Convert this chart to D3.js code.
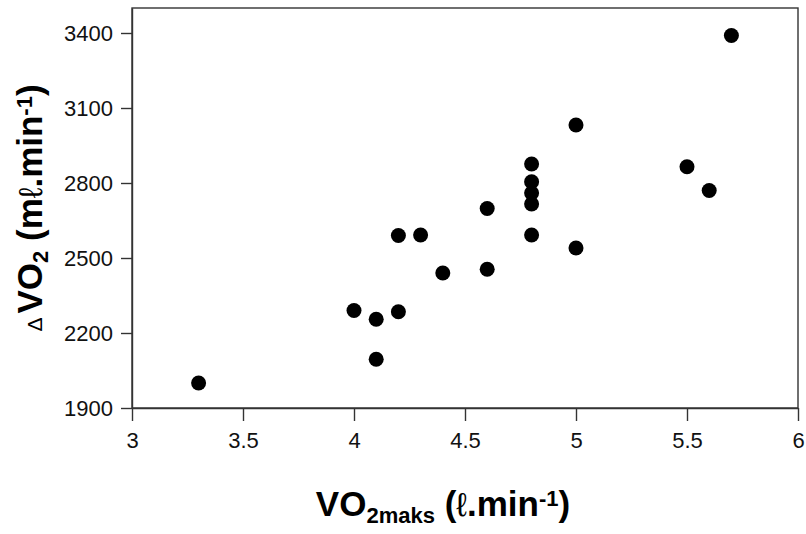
<!DOCTYPE html>
<html>
<head>
<meta charset="utf-8">
<script src="https://cdn.jsdelivr.net/npm/d3@7"></script>
<style>
  body { margin: 0; background: #fff; }
  svg { display: block; font-family: "Liberation Sans", Arial, sans-serif; }
  .axis path, .axis line { stroke: #333; stroke-width: 1.4px; }
  .axis text { font-family: "Liberation Sans Narrow", "Arial Narrow", "Liberation Sans", sans-serif; font-size: 22px; fill: #111; }
  .frame { fill: none; stroke: #333; stroke-width: 1.4px; }
  .dot { fill: #000; }
</style>
</head>
<body>
<script>
// datos
var vo2maks = [3.3, 4.0, 4.1, 4.1, 4.2, 4.2, 4.3, 4.4, 4.6, 4.6, 4.8, 4.8, 4.8, 4.8, 4.8, 5.0, 5.0, 5.5, 5.6, 5.7];
var deltaVo2 = [2000, 2290, 2255, 2095, 2285, 2590, 2592, 2440, 2455, 2698, 2876, 2805, 2760, 2716, 2592, 2540, 3032, 2865, 2770, 3390];
var xTicks = [3, 3.5, 4, 4.5, 5, 5.5, 6];
var yTicks = [1900, 2200, 2500, 2800, 3100, 3400];

var W = 806, H = 534;
var margin = {top: 8, right: 8, bottom: 126, left: 132};
var width = W - margin.left - margin.right,
    height = H - margin.top - margin.bottom;

var x = d3.scaleLinear().domain([3, 6]).range([0, width]);
var y = d3.scaleLinear().domain([1900, 3500]).range([height, 0]);

var svg = d3.select("body").append("svg")
    .attr("width", W)
    .attr("height", H);

var g = svg.append("g")
    .attr("transform", "translate(" + margin.left + "," + margin.top + ")");

// marco
g.append("rect")
    .attr("class", "frame")
    .attr("x", 0).attr("y", 0)
    .attr("width", width).attr("height", height);

// ejes
g.append("g")
    .attr("class", "axis")
    .attr("transform", "translate(0," + height + ")")
    .call(d3.axisBottom(x).tickValues(xTicks).tickSize(13).tickSizeOuter(0).tickPadding(11)
        .tickFormat(d3.format("")));

g.append("g")
    .attr("class", "axis")
    .call(d3.axisLeft(y).tickValues(yTicks).tickSize(11).tickSizeOuter(0).tickPadding(8)
        .tickFormat(d3.format("")));

// puntos
var data = vo2maks.map(function(v, i) { return {x: v, y: deltaVo2[i]}; });
g.selectAll(".dot")
    .data(data)
  .enter().append("circle")
    .attr("class", "dot")
    .attr("cx", function(d) { return x(d.x); })
    .attr("cy", function(d) { return y(d.y); })
    .attr("r", 7.5);

// texto con sub/superindices
function richText(sel, parts) {
  var prev = 0;
  parts.forEach(function(p) {
    var shift = p.shift || 0;
    sel.append("tspan")
        .attr("dy", shift - prev)
        .attr("dx", p.dx || 0)
        .style("font-size", p.size + "px")
        .style("font-weight", p.bold === false ? "normal" : "bold")
        .text(p.t);
    prev = shift;
  });
}

var xTitle = svg.append("text")
    .attr("x", 443).attr("y", 516)
    .attr("text-anchor", "middle")
    .attr("fill", "#000");
richText(xTitle, [
  {t: "VO", size: 35},
  {t: "2maks", size: 22, shift: 7},
  {t: " (", size: 35},
  {t: "\u2113", size: 33, bold: false},
  {t: ".min", size: 35},
  {t: "-1", size: 22, shift: -10},
  {t: ")", size: 35}
]);

var yTitle = svg.append("text")
    .attr("transform", "translate(42,208) rotate(-90)")
    .attr("text-anchor", "middle")
    .attr("fill", "#000");
richText(yTitle, [
  {t: "\u0394", size: 21, bold: false},
  {t: "VO", size: 35, dx: 4},
  {t: "2", size: 22, shift: 6},
  {t: " (m", size: 35},
  {t: "\u2113", size: 33, bold: false},
  {t: ".min", size: 35},
  {t: "-1", size: 22, shift: -10},
  {t: ")", size: 35}
]);
</script>
</body>
</html>
